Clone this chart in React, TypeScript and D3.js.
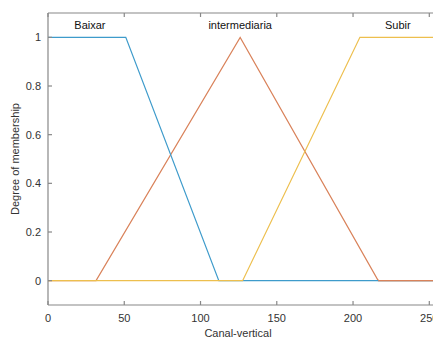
import React, { useEffect, useRef } from 'react';
import * as d3 from 'd3';

interface MFPoint {
  x: number;
  y: number;
}

// membership functions
const baixar: MFPoint[] = [
  { x: 0, y: 1 },
  { x: 51, y: 1 },
  { x: 112, y: 0 },
  { x: 255, y: 0 },
];
const intermediaria: MFPoint[] = [
  { x: 0, y: 0 },
  { x: 31.5, y: 0 },
  { x: 126, y: 1 },
  { x: 216.5, y: 0 },
  { x: 255, y: 0 },
];
const subir: MFPoint[] = [
  { x: 0, y: 0 },
  { x: 127.6, y: 0 },
  { x: 204.5, y: 1 },
  { x: 255, y: 1 },
];

const mfNames = ['Baixar', 'intermediaria', 'Subir'];
const mfLabelX = [27.5, 126, 229.4];
const xTicks = [0, 50, 100, 150, 200, 250];
const yTicks = [0, 0.2, 0.4, 0.6, 0.8, 1];

const colors = ['#3E9BCB', '#D9825A', '#EDBF4E'];
const axisColor = '#888888';
const textColor = '#333333';
const font = '"Liberation Sans", Arial, sans-serif';

export default function App() {
  const svgRef = useRef<SVGSVGElement>(null);

  useEffect(() => {
    if (!svgRef.current) return;
    const root = d3.select(svgRef.current);
    root.selectAll('*').remove();

    const width = 433;
    const height = 338;
    const margin = { top: 13, left: 48, bottom: 33 };
    const plotBottom = height - margin.bottom;

    const x = d3.scaleLinear().domain([0, 250]).range([margin.left, 429.3]);
    const y = d3.scaleLinear().domain([-0.1, 1.1]).range([plotBottom, margin.top]);
    const xMax = x(255);

    root.attr('width', width).attr('height', height);

    root
      .append('rect')
      .attr('width', width)
      .attr('height', height)
      .attr('fill', '#ffffff');

    const defs = root.append('defs');
    defs
      .append('clipPath')
      .attr('id', 'tail-clip')
      .append('rect')
      .attr('x', x(216.5))
      .attr('y', margin.top)
      .attr('width', xMax - x(216.5))
      .attr('height', plotBottom - margin.top);

    const line = d3
      .line<MFPoint>()
      .x(d => x(d.x))
      .y(d => y(d.y));

    const series = [baixar, intermediaria, subir];
    const drawOrder = [1, 0, 2];
    drawOrder.forEach(i => {
      root
        .append('path')
        .datum(series[i])
        .attr('fill', 'none')
        .attr('stroke', colors[i])
        .attr('stroke-width', 1.2)
        .attr('d', line);
    });
    // orange tail shows on top at the right side
    root
      .append('path')
      .datum(intermediaria)
      .attr('fill', 'none')
      .attr('stroke', colors[1])
      .attr('stroke-width', 1.2)
      .attr('clip-path', 'url(#tail-clip)')
      .attr('d', line);

    // frame
    const frame = root.append('g').attr('stroke', axisColor).attr('stroke-width', 1.2);
    frame
      .append('line')
      .attr('x1', margin.left)
      .attr('x2', xMax)
      .attr('y1', margin.top)
      .attr('y2', margin.top);
    frame
      .append('line')
      .attr('x1', margin.left)
      .attr('x2', xMax)
      .attr('y1', plotBottom)
      .attr('y2', plotBottom);
    frame
      .append('line')
      .attr('x1', margin.left)
      .attr('x2', margin.left)
      .attr('y1', margin.top)
      .attr('y2', plotBottom);

    // ticks (inward)
    xTicks.forEach(t => {
      frame
        .append('line')
        .attr('x1', x(t))
        .attr('x2', x(t))
        .attr('y1', plotBottom)
        .attr('y2', plotBottom - 4);
      frame
        .append('line')
        .attr('x1', x(t))
        .attr('x2', x(t))
        .attr('y1', margin.top)
        .attr('y2', margin.top + 4);
    });
    yTicks.forEach(t => {
      frame
        .append('line')
        .attr('x1', margin.left)
        .attr('x2', margin.left + 4)
        .attr('y1', y(t))
        .attr('y2', y(t));
    });

    const labels = root
      .append('g')
      .attr('fill', textColor)
      .attr('font-family', font)
      .attr('font-size', '11px');

    xTicks.forEach(t => {
      labels
        .append('text')
        .attr('x', x(t))
        .attr('y', plotBottom + 17)
        .attr('text-anchor', 'middle')
        .text(String(t));
    });
    yTicks.forEach(t => {
      labels
        .append('text')
        .attr('x', margin.left - 7)
        .attr('y', y(t))
        .attr('dy', '0.35em')
        .attr('text-anchor', 'end')
        .text(String(t));
    });

    // axis titles
    labels
      .append('text')
      .attr('x', 238)
      .attr('y', 337)
      .attr('text-anchor', 'middle')
      .text('Canal-vertical');
    labels
      .append('text')
      .attr('transform', 'rotate(-90)')
      .attr('x', -159)
      .attr('y', 19)
      .attr('text-anchor', 'middle')
      .text('Degree of membership');

    // membership function names
    mfNames.forEach((name, i) => {
      labels
        .append('text')
        .attr('x', x(mfLabelX[i]))
        .attr('y', y(1.05))
        .attr('dy', '0.35em')
        .attr('text-anchor', 'middle')
        .attr('fill', '#111111')
        .text(name);
    });
  }, []);

  return (
    <div style={{ position: 'absolute', left: 0, top: 0 }}>
      <svg ref={svgRef}></svg>
    </div>
  );
}
